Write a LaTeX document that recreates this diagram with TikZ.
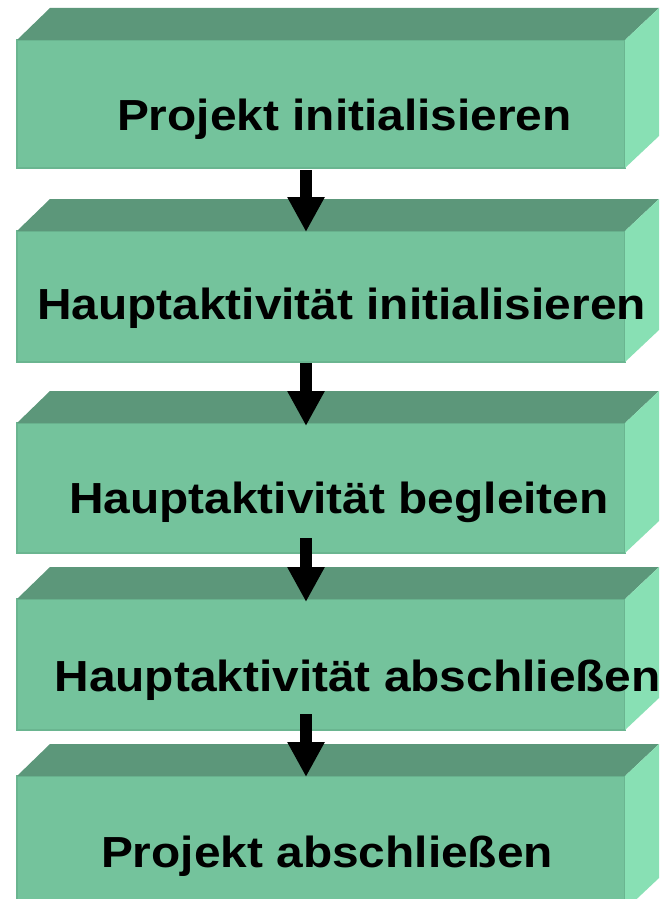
\documentclass[tikz,border=0pt]{standalone}
\usepackage{fontspec}
\setmainfont{Liberation Sans}
\newfontfamily\blockfont{Liberation Sans}[FakeStretch=1.1]
\usetikzlibrary{arrows.meta,calc}

\definecolor{frontgreen}{HTML}{74C39C}
\definecolor{edgegreen}{HTML}{6AB590}
\definecolor{topgreen}{HTML}{5C977A}
\definecolor{sidegreen}{HTML}{88E0B4}

\tikzset{
  frontface/.style={rectangle, fill=frontgreen, draw=edgegreen, line width=1.5pt,
    minimum width=608pt, outer sep=0pt, inner sep=0pt},
  topface/.style={fill=topgreen},
  sideface/.style={fill=sidegreen},
  steplabel/.style={anchor=base west, inner sep=0pt, outer sep=0pt,
    font=\blockfont\bfseries\fontsize{43.5}{48}\selectfont},
  flowarrow/.style={draw=black, line width=12pt, line cap=butt,
    -{Triangle[width=35pt,length=35pt]}}
}

% one 3D block: name, y of front top edge, y of front bottom edge
\newcommand\stepblock[3]{%
  \node[frontface, minimum height={(#3)-(#2)}] (#1) at (321,{((#2)+(#3))/2}) {};
  \fill[topface] (#1.north west) -- ++(33,-32) -- ([shift={(34,-32)}]#1.north east)
    -- (#1.north east) -- cycle;
  \fill[sideface] (#1.north east) -- ++(34,-32) -- ([shift={(34,-32)}]#1.south east)
    -- (#1.south east) -- cycle;
}

\begin{document}
\begin{tikzpicture}[x=1pt,y=-1pt]
  \useasboundingbox (0,0) rectangle (659,899);
  \clip (0,0) rectangle (659,899);
  \fill[white] (0,0) rectangle (659,899);

  \stepblock{b1}{40}{168}
  \stepblock{b2}{231}{362}
  \stepblock{b3}{423}{553}
  \stepblock{b4}{599}{730}
  \stepblock{b5}{776}{910}

  \node[steplabel] (t1) at (117,130) {Projekt initialisieren};
  \node[steplabel] (t2) at (37,319) {Hauptaktivität initialisieren};
  \node[steplabel] (t3) at (69,513) {Hauptaktivität begleiten};
  \node[steplabel] (t4) at (54.5,691) {Hauptaktivität abschließen};
  \node[steplabel] (t5) at (101,867) {Projekt abschließen};

  \draw[flowarrow] ([xshift=-15pt,yshift=-2pt]b1.south) -- ([xshift=-15pt,yshift=-1pt]b2.north);
  \draw[flowarrow] ([xshift=-15pt,yshift=-1pt]b2.south) -- ([xshift=-15pt,yshift=-3pt]b3.north);
  \draw[flowarrow] ([xshift=-15pt,yshift=15pt]b3.south) -- ([xshift=-15pt,yshift=-3pt]b4.north);
  \draw[flowarrow] ([xshift=-15pt,yshift=16pt]b4.south) -- ([xshift=-15pt,yshift=-1pt]b5.north);
\end{tikzpicture}
\end{document}
